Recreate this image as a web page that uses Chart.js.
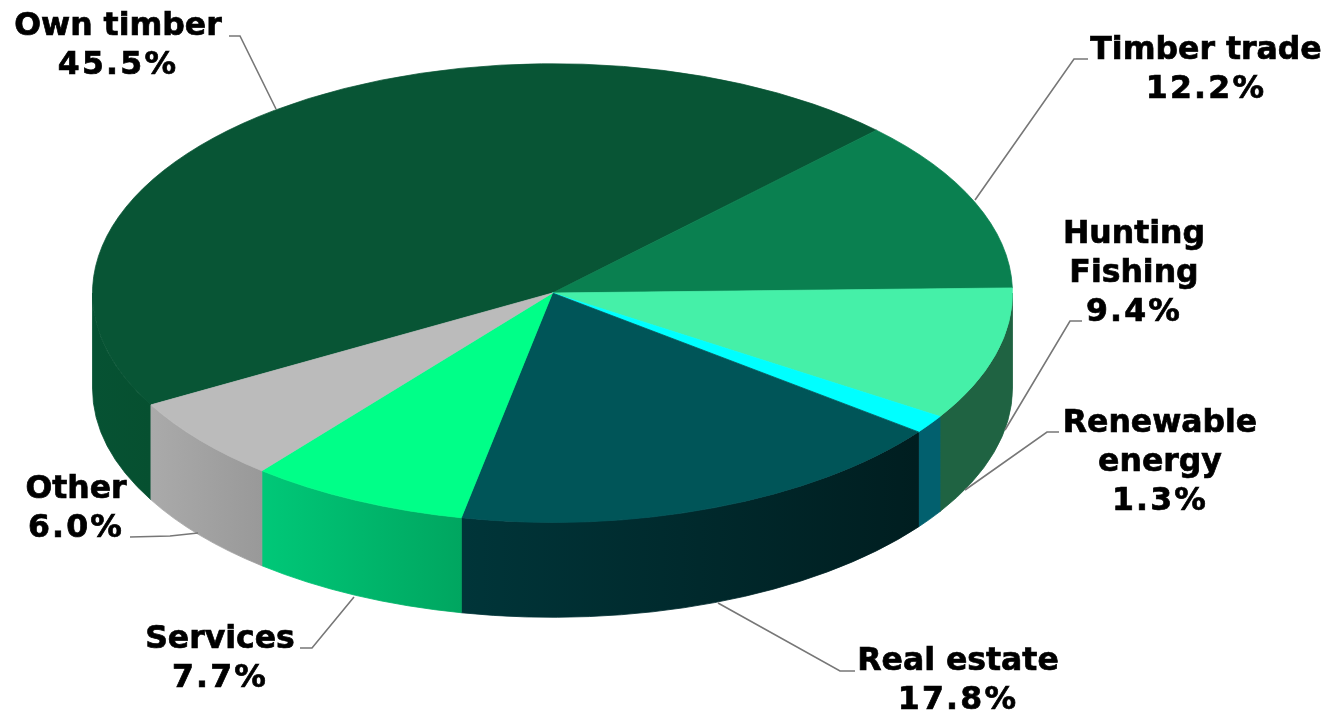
<!DOCTYPE html>
<html>
<head>
<meta charset="utf-8">
<title>Income by activity</title>
<style>
    html, body { margin: 0; padding: 0; background: #fff; }
    canvas { display: block; }
</style>
<script src="https://cdn.jsdelivr.net/npm/chart.js@4"></script>
</head>
<body>
<canvas id="myChart" width="1332" height="711"></canvas>
<script>
const categories = ['Own timber', 'Timber trade', 'Hunting\nFishing', 'Renewable\nenergy', 'Real estate', 'Services', 'Other'];
const shares = [45.5, 12.2, 9.4, 1.3, 17.8, 7.7, 6.0];
const topColors = ['#085535', '#0a8050', '#45f0a8', '#00ffff', '#005558', '#00ff88', '#bbbbbb'];
const wallLeft = ['#065233', '#0a8050', '#1f6342', '#02606e', '#003539', '#00c878', '#aaaaaa'];
const wallRight = ['#065030', '#0a8050', '#1f6342', '#02606e', '#001e20', '#00a660', '#999999'];

// label anchor: centre x, first baseline y
const labelX = [118, 1206, 1134, 1160, 958, 220, 76];
const labelY = [35, 59, 243, 432, 670, 648, 498];
const leaders = [
    [[229, 36], [240, 36], [276, 109]],
    [[1088, 59], [1074, 59], [975, 200]],
    [[1082, 321], [1070, 321], [1005, 430]],
    [[1059, 432], [1047, 432], [965, 490]],
    [[855, 671], [840, 671], [718, 603]],
    [[300, 648], [312, 648], [354, 597]],
    [[130, 537], [170, 536], [198, 533]]
];

const squash = 0.4985;
const depth = 95;
const lineHeight = 39;

// side wall under the front half of the pie
function drawWalls(chart) {
    const ctx = chart.ctx;
    const arcs = chart.getDatasetMeta(0).data;
    arcs.forEach((arc, i) => {
        [0, Math.PI * 2].forEach(shift => {
            const start = Math.max(arc.startAngle - shift, 0);
            const end = Math.min(arc.endAngle - shift, Math.PI);
            if (end <= start) return;
            const rx = arc.outerRadius;
            const ry = rx * squash;
            const x1 = arc.x + rx * Math.cos(start);
            const x2 = arc.x + rx * Math.cos(end);
            const grad = ctx.createLinearGradient(Math.min(x1, x2), 0, Math.max(x1, x2), 0);
            grad.addColorStop(0, wallLeft[i]);
            grad.addColorStop(1, wallRight[i]);
            ctx.beginPath();
            ctx.ellipse(arc.x, arc.y, rx, ry, 0, start, end);
            ctx.ellipse(arc.x, arc.y + depth, rx, ry, 0, end, start, true);
            ctx.closePath();
            ctx.fillStyle = grad;
            ctx.fill();
            // closes the hairline between neighbouring walls
            ctx.strokeStyle = grad;
            ctx.lineWidth = 0.8;
            ctx.stroke();
        });
    });
}

const pie3d = {
    id: 'pie3d',
    beforeDatasetDraw(chart) {
        const ctx = chart.ctx;
        const arc = chart.getDatasetMeta(0).data[0];
        drawWalls(chart);
        ctx.save();
        ctx.translate(0, arc.y);
        ctx.scale(1, squash);
        ctx.translate(0, -arc.y);
    },
    afterDatasetDraw(chart) {
        chart.ctx.restore();
    },
    afterDraw(chart) {
        const ctx = chart.ctx;
        ctx.save();
        ctx.strokeStyle = '#777777';
        ctx.lineWidth = 1.6;
        leaders.forEach(pts => {
            ctx.beginPath();
            pts.forEach((p, n) => n ? ctx.lineTo(p[0], p[1]) : ctx.moveTo(p[0], p[1]));
            ctx.stroke();
        });
        ctx.fillStyle = '#000';
        ctx.strokeStyle = '#000';
        ctx.lineWidth = 0.7;
        ctx.font = 'bold 31.5px "DejaVu Sans"';
        ctx.textAlign = 'center';
        ctx.textBaseline = 'alphabetic';
        categories.forEach((name, i) => {
            const lines = name.split('\n').concat(shares[i].toFixed(1) + '%');
            lines.forEach((line, n) => {
                // the figures run wider than the words in the original
                ctx.letterSpacing = n === lines.length - 1 ? '2.2px' : '0px';
                ctx.fillText(line, labelX[i], labelY[i] + n * lineHeight);
                ctx.strokeText(line, labelX[i], labelY[i] + n * lineHeight);
            });
        });
        ctx.restore();
    }
};

new Chart(document.getElementById('myChart'), {
    type: 'pie',
    data: {
        labels: categories,
        datasets: [{
            data: shares,
            backgroundColor: topColors,
            borderColor: topColors,
            borderWidth: 1,
            radius: 460,
            clip: false
        }]
    },
    options: {
        responsive: false,
        animation: false,
        rotation: 240.8,
        layout: { padding: { right: 227, bottom: 125 } },
        plugins: {
            legend: { display: false },
            tooltip: { enabled: false }
        }
    },
    plugins: [pie3d]
});
</script>
</body>
</html>
